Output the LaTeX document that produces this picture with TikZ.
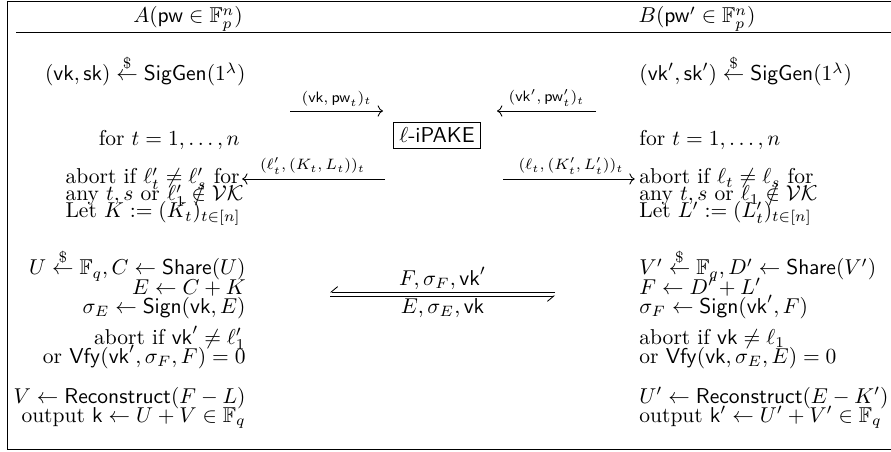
\documentclass[tikz,border=0pt]{standalone}
\usepackage{amsmath}
\usepackage{amssymb}
\usepackage{tikz}
\usetikzlibrary{arrows.meta,calc}

\newcommand{\vk}{\mathsf{vk}}
\newcommand{\sk}{\mathsf{sk}}
\newcommand{\pw}{\mathsf{pw}}
\newcommand{\sesskey}{\mathsf{k}}
\newcommand{\SigGen}{\mathsf{SigGen}}
\newcommand{\Sign}{\mathsf{Sign}}
\newcommand{\Vfy}{\mathsf{Vfy}}
\newcommand{\Share}{\mathsf{Share}}
\newcommand{\Reconstruct}{\mathsf{Reconstruct}}
\newcommand{\sample}{\overset{\$}{\leftarrow}}

\begin{document}
\begin{tikzpicture}[x=0.465pt,y=-0.465pt,
    every node/.style={inner sep=0pt},
    lft/.style={anchor=base east},
    rgt/.style={anchor=base west},
    msg/.style={midway,above,inner sep=2pt,font=\scriptsize},
    hp/.style={-{Straight Barb[right,length=3pt,width=5pt]}}]
    \useasboundingbox (0,0) rectangle (891,452);
    % frame and header rule
    \draw (895,1) -- (7,1) -- (7,449) -- (895,449);
    \draw (16,32) -- (895,32);
    \node[anchor=base] (A-head) at (188,23) {$A(\pw \in \mathbb{F}_p^n)$};
    \node[anchor=base] (B-head) at (697,23) {$B(\pw' \in \mathbb{F}_p^n)$};

    % party A
    \node[lft] (A-gen) at (246,81) {$(\vk, \sk) \sample \SigGen(1^\lambda)$};
    \node[lft] (A-for) at (240,146) {for $t = 1, \ldots, n$};
    \node[lft] (A-ab1) at (240,184) {abort if $\ell'_t \neq \ell'_s$ for};
    \node[rgt] (A-ab2) at ($(A-ab1.base west)+(0,17)$) {any $t, s$ or $\ell'_1 \notin \mathcal{VK}$};
    \node[rgt] (A-ab3) at ($(A-ab1.base west)+(0,34)$) {Let $K := (K_t)_{t\in[n]}$};
    \node[lft] (A-u) at (246,275) {$U \sample \mathbb{F}_q, C \leftarrow \Share(U)$};
    \node[lft] (A-e) at (246,294) {$E \leftarrow C + K$};
    \node[lft] (A-sig) at (246,313) {$\sigma_E \leftarrow \Sign(\vk, E)$};
    \node[lft] (A-chk1) at (246,344) {abort if $\vk' \neq \ell'_1$};
    \node[lft] (A-chk2) at (246,363) {or $\Vfy(\vk', \sigma_F, F) = 0$};
    \node[lft] (A-rec) at (246,403) {$V \leftarrow \Reconstruct(F - L)$};
    \node[lft] (A-out) at (246,422) {output $\sesskey \leftarrow U + V \in \mathbb{F}_q$};

    % party B
    \node[rgt] (B-gen) at (639,81) {$(\vk', \sk') \sample \SigGen(1^\lambda)$};
    \node[rgt] (B-for) at (639,146) {for $t = 1, \ldots, n$};
    \node[rgt] (B-ab1) at (639,184) {abort if $\ell_t \neq \ell_s$ for};
    \node[rgt] (B-ab2) at (639,201) {any $t, s$ or $\ell_1 \notin \mathcal{VK}$};
    \node[rgt] (B-ab3) at (639,218) {Let $L' := (L'_t)_{t\in[n]}$};
    \node[rgt] (B-v) at (639,275) {$V' \sample \mathbb{F}_q, D' \leftarrow \Share(V')$};
    \node[rgt] (B-f) at (639,294) {$F \leftarrow D' + L'$};
    \node[rgt] (B-sig) at (639,313) {$\sigma_F \leftarrow \Sign(\vk', F)$};
    \node[rgt] (B-chk1) at (639,344) {abort if $\vk \neq \ell_1$};
    \node[rgt] (B-chk2) at (639,363) {or $\Vfy(\vk, \sigma_E, E) = 0$};
    \node[rgt] (B-rec) at (639,403) {$U' \leftarrow \Reconstruct(E - K')$};
    \node[rgt] (B-out) at (639,422) {output $\sesskey' \leftarrow U' + V' \in \mathbb{F}_q$};

    % middle
    \node[draw,inner sep=2.6pt] (ipake) at (437,135) {$\ell$-\textsf{iPAKE}};
    \coordinate (m1a) at (290,111);
    \coordinate (m1b) at (383,111);
    \coordinate (m2a) at (596,111);
    \coordinate (m2b) at (497,111);
    \coordinate (m3a) at (385,179);
    \coordinate (m4a) at (503,179);
    \draw[->] (m1a) -- (m1b) node[msg] {$(\vk, \pw_t)_t$};
    \draw[->] (m2a) -- (m2b) node[msg] {$(\vk', \pw'_t)_t$};
    \draw[->,shorten >=1pt] (m3a) -- (A-ab1.east |- m3a) node[msg] {$(\ell'_t, (K_t, L_t))_t$};
    \draw[->,shorten >=2pt] (m4a) -- (B-ab1.west |- m4a) node[msg] {$(\ell_t, (K'_t, L'_t))_t$};

    \coordinate (hL1) at (330,292);
    \coordinate (hR1) at (555,292);
    \coordinate (hL2) at (330,296);
    \coordinate (hR2) at (555,296);
    \draw[hp] (hR1) -- (hL1) node[midway,above,inner sep=1pt] (fmsg) {$F, \sigma_F, \vk'$};
    \draw[hp] (hL2) -- (hR2) node[midway,below,inner sep=1pt] (emsg) {$E, \sigma_E, \vk$};
\end{tikzpicture}
\end{document}
